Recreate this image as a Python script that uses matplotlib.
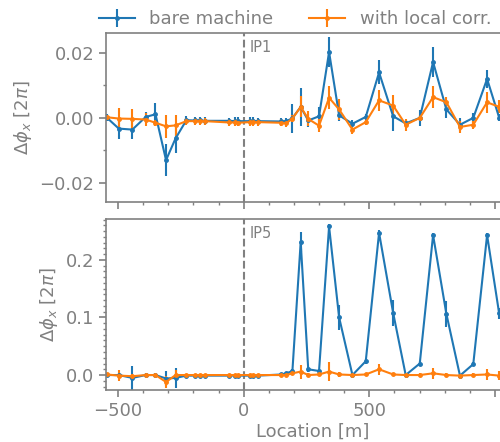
import matplotlib
matplotlib.use("Agg")
import matplotlib.pyplot as plt
import matplotlib.ticker as mticker
import numpy as np

# ---------------------------------------------------------------------------
# Data: BPM locations [m] and phase beating for the two IPs
# ---------------------------------------------------------------------------
LOCATION = [-545, -497, -443, -390, -351, -309, -271, -228, -195, -175, -155,
            -60, -34, -22, 24, 36, 57, 150, 170, 194, 227, 257, 300, 340, 380,
            433, 486, 539, 595, 645, 701, 754, 807, 861, 914, 969, 1017]

# IP1
IP1_BARE = [0.0000, -0.0034, -0.0037, 0.0002, 0.0010, -0.0131, -0.0064, -0.0008,
            -0.0009, -0.0009, -0.0010, -0.0010, -0.0011, -0.0011, -0.0011, -0.0011,
            -0.0011, -0.0012, -0.0011, -0.0002, 0.0033, -0.0009, 0.0004, 0.0202,
            0.0007, -0.0019, 0.0002, 0.0139, 0.0004, -0.0018, -0.0001, 0.0171,
            0.0025, -0.0022, -0.0001, 0.0119, 0.0000]
IP1_BARE_ERR = [0.0010, 0.0033, 0.0029, 0.0015, 0.0036, 0.0050, 0.0045, 0.0012,
                0.0012, 0.0012, 0.0012, 0.0010, 0.0012, 0.0012, 0.0012, 0.0012,
                0.0010, 0.0010, 0.0010, 0.0045, 0.0059, 0.0020, 0.0028, 0.0046,
                0.0018, 0.0010, 0.0010, 0.0037, 0.0044, 0.0010, 0.0025, 0.0047,
                0.0026, 0.0020, 0.0015, 0.0027, 0.0010]
IP1_CORR = [0.0001, -0.0003, -0.0004, -0.0006, -0.0016, -0.0027, -0.0024, -0.0011,
            -0.0011, -0.0011, -0.0011, -0.0015, -0.0015, -0.0016, -0.0014, -0.0014,
            -0.0014, -0.0016, -0.0017, -0.0003, 0.0033, -0.0004, -0.0025, 0.0061,
            0.0025, -0.0037, -0.0014, 0.0053, 0.0037, -0.0022, -0.0001, 0.0063,
            0.0047, -0.0029, -0.0022, 0.0047, 0.0033]
IP1_CORR_ERR = [0.0005, 0.0033, 0.0031, 0.0020, 0.0010, 0.0036, 0.0033, 0.0011,
                0.0011, 0.0011, 0.0011, 0.0011, 0.0011, 0.0011, 0.0011, 0.0011,
                0.0011, 0.0011, 0.0011, 0.0010, 0.0032, 0.0023, 0.0020, 0.0036,
                0.0031, 0.0015, 0.0010, 0.0033, 0.0033, 0.0019, 0.0010, 0.0033,
                0.0015, 0.0018, 0.0012, 0.0033, 0.0020]

# IP5
IP5_BARE = [0.000, 0.000, -0.005, 0.000, 0.000, -0.006, -0.005, -0.001, -0.001,
            -0.001, -0.001, -0.001, -0.001, -0.001, -0.001, -0.001, -0.001, 0.001,
            0.003, 0.007, 0.231, 0.010, 0.007, 0.258, 0.100, 0.000, 0.024, 0.247,
            0.108, 0.000, 0.020, 0.243, 0.106, -0.001, 0.019, 0.243, 0.107]
IP5_BARE_ERR = [0.003, 0.003, 0.021, 0.003, 0.003, 0.013, 0.017, 0.003, 0.003,
                0.003, 0.003, 0.003, 0.003, 0.003, 0.003, 0.003, 0.003, 0.003,
                0.003, 0.004, 0.018, 0.004, 0.004, 0.005, 0.021, 0.003, 0.004, 0.004,
                0.023, 0.003, 0.004, 0.004, 0.023, 0.003, 0.004, 0.004, 0.010]
IP5_CORR = [0.001, -0.001, -0.002, 0.000, 0.000, -0.012, 0.000, 0.000, 0.000,
            0.000, 0.000, 0.000, 0.000, 0.000, 0.000, 0.000, 0.000, 0.000, 0.000,
            0.003, 0.006, 0.000, 0.001, 0.006, 0.001, 0.000, 0.001, 0.010, 0.001,
            0.000, 0.000, 0.003, 0.000, -0.001, 0.000, 0.001, -0.001]
IP5_CORR_ERR = [0.003, 0.010, 0.004, 0.003, 0.003, 0.010, 0.008, 0.002, 0.002,
                0.002, 0.002, 0.002, 0.002, 0.002, 0.002, 0.002, 0.002, 0.002, 0.002,
                0.003, 0.012, 0.003, 0.003, 0.016, 0.004, 0.003, 0.003, 0.010, 0.003,
                0.003, 0.003, 0.009, 0.003, 0.003, 0.003, 0.010, 0.008]

IP_LABELS = ["IP1", "IP5"]
SERIES_LABELS = ["bare machine", "with local corr."]
X_TICKS = [-500, 0, 500, 1000]
X_TICK_LABELS = ["\u2212500", "0", "500", ""]

GREY = "#808080"
plt.rcParams.update({
    "font.size": 13,
    "text.color": GREY,
    "axes.labelcolor": GREY,
    "axes.edgecolor": GREY,
    "axes.linewidth": 1.2,
    "xtick.color": GREY,
    "ytick.color": GREY,
    "xtick.labelcolor": GREY,
    "ytick.labelcolor": GREY,
})

fig = plt.figure(figsize=(5.0, 4.42), dpi=100)
ax1 = fig.add_axes([0.212, 0.543, 0.828, 0.382])
ax2 = fig.add_axes([0.212, 0.1176, 0.828, 0.387], sharex=ax1)

panels = [
    (ax1, IP1_BARE, IP1_BARE_ERR, IP1_CORR, IP1_CORR_ERR),
    (ax2, IP5_BARE, IP5_BARE_ERR, IP5_CORR, IP5_CORR_ERR),
]
for (ax, bare, bare_err, corr, corr_err), ip in zip(panels, IP_LABELS):
    ax.errorbar(LOCATION, bare, yerr=bare_err, marker=".", ms=5, lw=1.5,
                elinewidth=1.5, color="#1f77b4", label=SERIES_LABELS[0])
    ax.errorbar(LOCATION, corr, yerr=corr_err, marker=".", ms=5, lw=1.5,
                elinewidth=1.5, color="#ff7f0e", label=SERIES_LABELS[1])
    ax.axvline(0, color=GREY, lw=1.5, ls="--", zorder=0)
    ax.text(22, 0.96, ip, transform=ax.get_xaxis_transform(), fontsize=10.5,
            va="top", ha="left", color=GREY)
    ax.set_ylabel(r"$\Delta\phi_x$ [$2\pi$]")
    ax.tick_params(which="major", length=5, width=1.2)
    ax.tick_params(which="minor", length=2.5, width=1.0)

ax1.set_xlim(-548, 1100)
ax1.xaxis.set_major_locator(mticker.FixedLocator(X_TICKS))
ax1.xaxis.set_major_formatter(mticker.FixedFormatter(X_TICK_LABELS))
ax1.xaxis.set_minor_locator(mticker.MultipleLocator(100))
ax1.tick_params(labelbottom=False)

ax1.set_ylim(-0.026, 0.026)
ax1.yaxis.set_major_locator(mticker.MultipleLocator(0.02))
ax1.yaxis.set_minor_locator(mticker.MultipleLocator(0.01))

ax2.set_ylim(-0.026, 0.271)
ax2.yaxis.set_major_locator(mticker.MultipleLocator(0.1))
ax2.yaxis.set_minor_locator(mticker.MultipleLocator(0.01))
ax2.set_xlabel("Location [m]", labelpad=2)

handles, labels = ax1.get_legend_handles_labels()
fig.legend(handles, labels, ncol=2, loc="center", bbox_to_anchor=(0.59, 0.957),
           frameon=False, fontsize=13, columnspacing=2.0, borderaxespad=0)

fig.savefig("out.png", dpi=100)
